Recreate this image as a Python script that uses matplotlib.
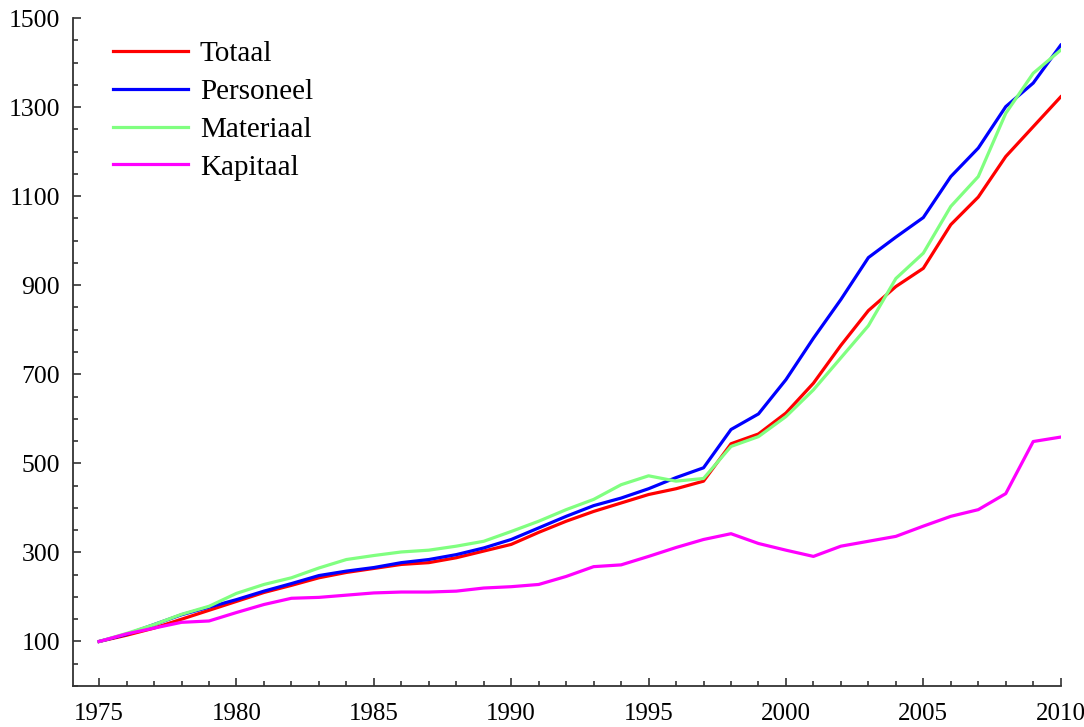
import matplotlib.pyplot as plt
from matplotlib.ticker import MultipleLocator

# Index values, 1975 = 100
years = list(range(1975, 2011))

totaal = [100, 114, 130, 150, 170, 190, 210, 226, 243, 255, 264, 273, 277, 288,
          303, 318, 345, 370, 392, 411, 430, 443, 460, 544, 566, 613, 680, 765,
          843, 897, 938, 1036, 1098, 1189, 1256, 1323]
personeel = [100, 116, 138, 160, 177, 194, 213, 230, 248, 258, 266, 277, 284, 295,
             310, 329, 355, 381, 405, 422, 443, 468, 490, 576, 611, 688, 781, 868,
             962, 1008, 1052, 1144, 1208, 1301, 1354, 1439]
materiaal = [100, 118, 138, 161, 179, 208, 228, 243, 265, 284, 293, 301, 305, 314,
             325, 347, 370, 396, 419, 452, 472, 460, 466, 538, 560, 605, 665, 737,
             809, 915, 972, 1077, 1144, 1286, 1376, 1428]
kapitaal = [100, 117, 130, 143, 146, 165, 183, 197, 199, 204, 209, 211, 211, 213,
            220, 223, 228, 246, 268, 272, 291, 311, 329, 342, 320, 305, 291, 314,
            325, 336, 359, 381, 396, 432, 549, 559]

series = [("Totaal", totaal, "#ff0000"),
          ("Personeel", personeel, "#0000ff"),
          ("Materiaal", materiaal, "#80ff80"),
          ("Kapitaal", kapitaal, "#ff00ff")]

plt.rcParams['font.family'] = ['Liberation Serif', 'DejaVu Serif']

fig = plt.figure(figsize=(10.84, 7.27), dpi=100)
ax = fig.add_axes([0.0671, 0.0564, 0.9114, 0.9188])

for name, vals, col in series:
    ax.plot(years, vals, color=col, lw=2.3, label=name)

ax.set_xlim(1974.04, 2010)
ax.set_ylim(0, 1500)

ax.xaxis.set_major_locator(MultipleLocator(5))
ax.xaxis.set_minor_locator(MultipleLocator(1))
ax.set_yticks(range(100, 1501, 200))
ax.yaxis.set_minor_locator(MultipleLocator(50))

for s in ['top', 'right']:
    ax.spines[s].set_visible(False)
for s in ['left', 'bottom']:
    ax.spines[s].set_color('#333333')
    ax.spines[s].set_linewidth(1.3)

ax.tick_params(which='both', direction='in', color='#333333', width=1.2,
               labelcolor='black')
ax.tick_params(which='major', length=6)
ax.tick_params(which='minor', length=3.3)
ax.tick_params(axis='x', pad=12, labelsize=18)
ax.tick_params(axis='y', pad=9, labelsize=18.5)

ax.legend(loc='upper left', bbox_to_anchor=(0.0408, 0.966), frameon=False,
          fontsize=21, handlelength=2.57, handletextpad=0.41,
          labelspacing=0.39, borderpad=0, borderaxespad=0)

fig.savefig('out.png', dpi=100)
